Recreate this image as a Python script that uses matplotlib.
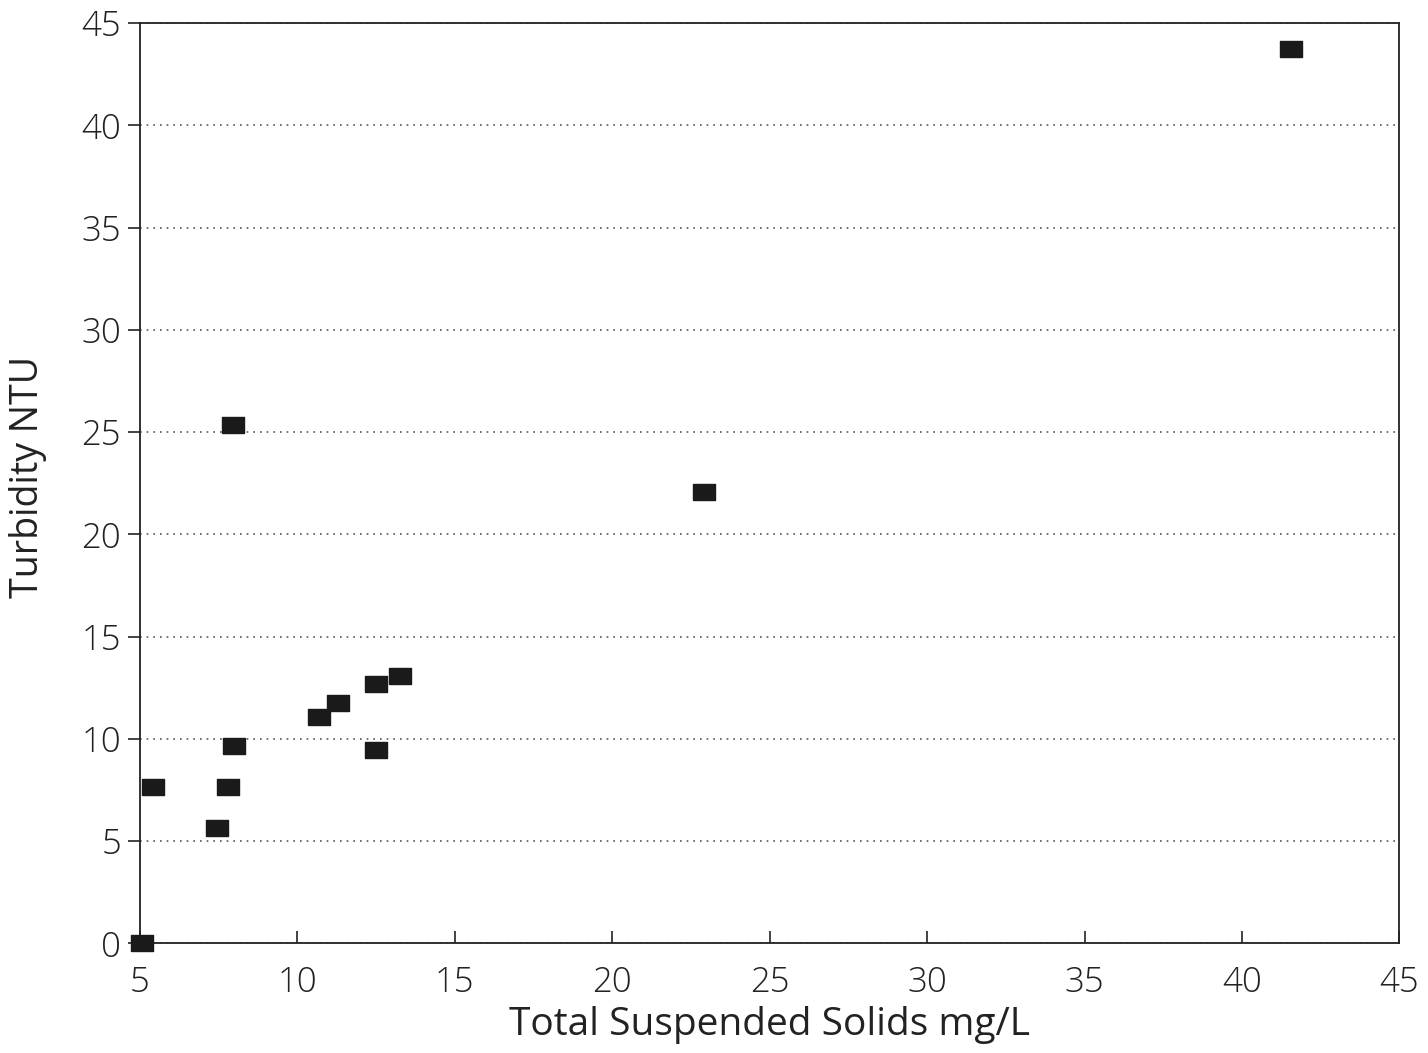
import matplotlib
matplotlib.use("Agg")
import matplotlib.pyplot as plt

# data
tss = [5.05, 5.43, 7.46, 7.79, 7.97, 8.0, 10.7, 11.29, 12.5, 12.5, 13.25, 22.9, 41.56]
turbidity = [0.0, 7.65, 5.63, 7.65, 25.36, 9.65, 11.06, 11.74, 12.68, 9.45, 13.06, 22.08, 43.75]
x_ticks = [5, 10, 15, 20, 25, 30, 35, 40, 45]
y_ticks = [0, 5, 10, 15, 20, 25, 30, 35, 40, 45]

plt.rcParams["font.family"] = ["Open Sans", "Liberation Sans", "DejaVu Sans"]
plt.rcParams["font.weight"] = "light"
ink = "#222222"

fig = plt.figure(figsize=(14.28, 10.53), dpi=100)
ax = fig.add_axes([0.098, 0.104, 0.882, 0.874])

# wide rectangle marker like the original plotter
rect = [(-1, -0.72), (1, -0.72), (1, 0.72), (-1, 0.72), (-1, -0.72)]
ax.plot(tss, turbidity, linestyle="none", marker=rect, markersize=15.5,
        color="#1a1a1a", markeredgecolor="#1a1a1a", clip_on=False, zorder=3)

ax.set_xlim(5, 45)
ax.set_ylim(0, 45)
ax.set_xticks(x_ticks)
ax.set_yticks(y_ticks)

ax.yaxis.grid(True, linestyle=(0, (1, 3)), color="#555555", linewidth=1.2)
ax.set_axisbelow(True)

for s in ax.spines.values():
    s.set_color(ink)
    s.set_linewidth(1.3)

ax.tick_params(axis="x", direction="in", length=9, width=1.2, colors=ink,
               labelsize=25, pad=16)
ax.tick_params(axis="y", direction="out", length=8.5, width=1.2, colors=ink,
               labelsize=25, pad=5)

ax.set_xlabel("Total Suspended Solids mg/L", fontsize=28, color=ink, labelpad=4)
ax.set_ylabel("Turbidity NTU", fontsize=27, color=ink)
ax.yaxis.set_label_coords(-0.074, 0.507)

fig.savefig("out.png", dpi=100, facecolor="white")
